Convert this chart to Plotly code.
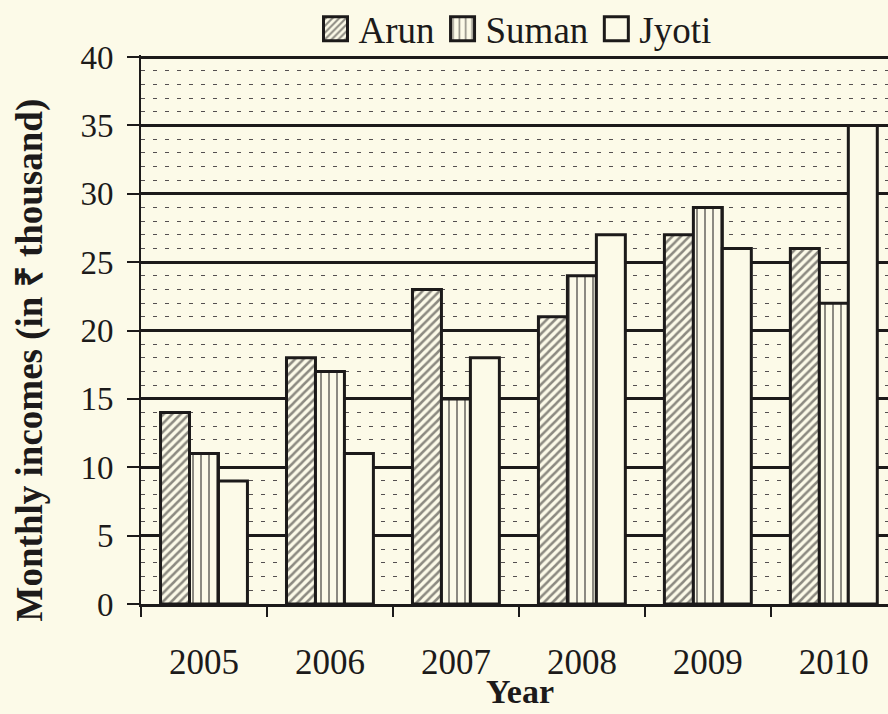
import plotly.graph_objects as go

years = ["2005", "2006", "2007", "2008", "2009", "2010"]
arun = [14, 18, 23, 21, 27, 26]
suman = [11, 17, 15, 24, 29, 22]
jyoti = [9, 11, 18, 27, 26, 35]

BG = "#fcfae8"
INK = "#1c1a1a"
FONT = "Liberation Serif"

fig = go.Figure()
fig.add_bar(name="Arun", x=years, y=arun,
            marker=dict(color=BG, line=dict(color=INK, width=3),
                        pattern=dict(shape="/", fgcolor=INK, bgcolor=BG, size=6, solidity=0.42)))
fig.add_bar(name="Suman", x=years, y=suman,
            marker=dict(color=BG, line=dict(color=INK, width=3),
                        pattern=dict(shape="|", fgcolor=INK, bgcolor=BG, size=8, solidity=0.25)))
fig.add_bar(name="Jyoti", x=years, y=jyoti,
            marker=dict(color=BG, line=dict(color=INK, width=3)))

fig.update_layout(
    width=888, height=714,
    margin=dict(l=141, r=0, t=55, b=110, pad=0, autoexpand=False),
    paper_bgcolor=BG, plot_bgcolor=BG,
    barmode="group", bargap=0.31, bargroupgap=0,
    font=dict(family=FONT, color=INK),
    showlegend=True,
    legend=dict(orientation="h", x=0.5, xanchor="center", y=1.047, yanchor="middle",
                font=dict(family=FONT, size=37, color=INK), bgcolor="rgba(0,0,0,0)",
                itemwidth=36, tracegroupgap=0),
    xaxis=dict(type="category", range=[-0.5, 5.43], tickson="boundaries",
               ticks="outside", ticklen=10, tickwidth=2, tickcolor=INK,
               showline=True, linecolor=INK, linewidth=3, showgrid=False,
               automargin=False,
               tickfont=dict(family=FONT, size=35, color=INK), ticklabelstandoff=25),
    yaxis=dict(range=[0, 40.15], dtick=5, tick0=0,
               showgrid=True, gridcolor=INK, gridwidth=2.5,
               minor=dict(dtick=1, showgrid=True, gridcolor="#555050", gridwidth=1,
                          griddash="4px,8px"),
               ticks="outside", ticklen=12, tickwidth=2, tickcolor=INK,
               showline=True, linecolor=INK, linewidth=2, zeroline=False,
               automargin=False,
               tickfont=dict(family=FONT, size=33, color=INK), ticklabelstandoff=7),
    annotations=[
        dict(text="<b>Monthly incomes (in ₹ thousand)</b>", xref="paper", yref="paper",
             x=-0.149, y=0.445, xanchor="center", yanchor="middle", textangle=-90,
             showarrow=False, font=dict(family=FONT, size=37, color=INK)),
        dict(text="<b>Year</b>", xref="paper", yref="paper",
             x=0.508, y=-0.16, xanchor="center", yanchor="middle",
             showarrow=False, font=dict(family=FONT, size=34, color=INK)),
    ],
)

post = """
document.body.style.margin = '0';
document.body.style.padding = '0';
var gd = document.getElementById('{plot_id}');
function bigLegend(){
  gd.querySelectorAll('.legendpoints path').forEach(function(p){
    p.setAttribute('d', 'M12,12H-12V-12H12Z');
  });
}
bigLegend();
gd.on('plotly_afterplot', bigLegend);
"""
fig.write_html("out.html", post_script=post, config={"displayModeBar": False})
